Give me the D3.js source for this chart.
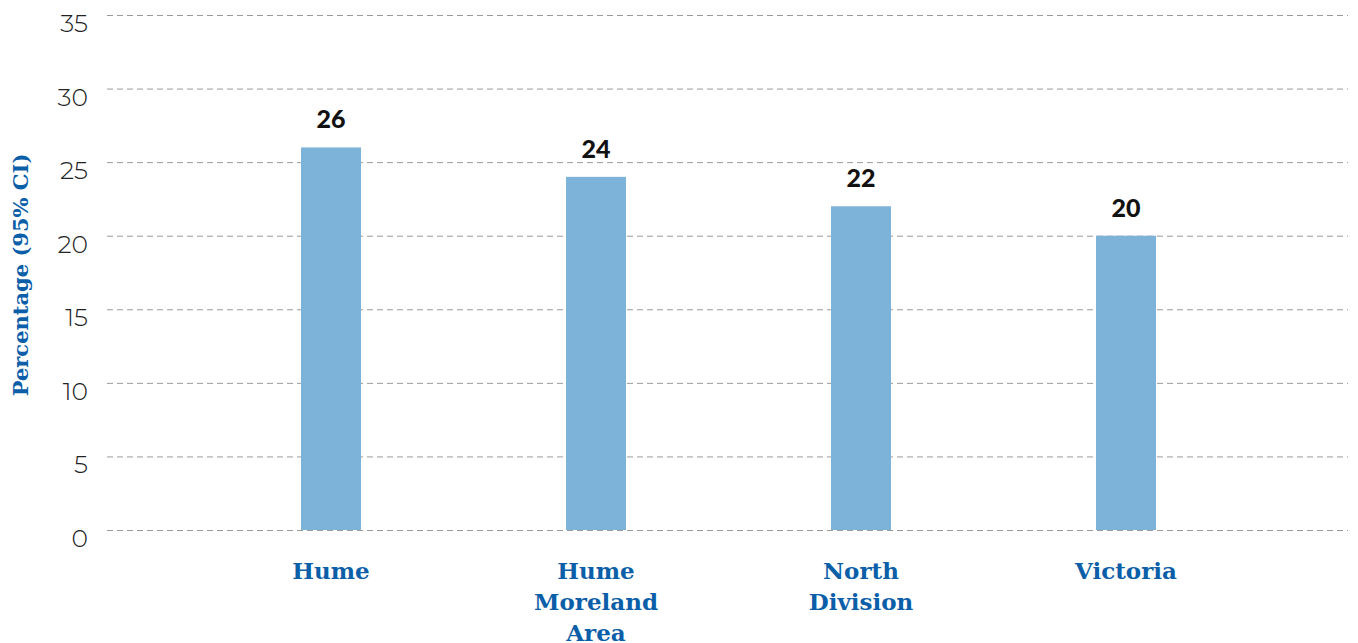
<!DOCTYPE html>
<html>
<head>
<meta charset="utf-8">
<script src="https://cdn.jsdelivr.net/npm/d3@7"></script>
<style>
  html, body { margin: 0; padding: 0; background: #fff; }
  svg { display: block; }
</style>
</head>
<body>
<svg id="chart" width="1358" height="643"></svg>
<script>
// Data
const categories = ["Hume", "Hume Moreland Area", "North Division", "Victoria"];
const categoryLines = [["Hume"], ["Hume", "Moreland", "Area"], ["North", "Division"], ["Victoria"]];
const values = [26, 24, 22, 20];
const yTicks = [0, 5, 10, 15, 20, 25, 30, 35];
const yTitle = "Percentage (95% CI)";

const svg = d3.select("#chart");

const gridLeft = 107, gridRight = 1348;
const plotTop = 15, plotBottom = 530;

const y = d3.scaleLinear().domain([0, 35]).range([plotBottom, plotTop]);

const pIn = 0.7736;
const x = d3.scaleBand()
  .domain(categories)
  .range([198.5, 1258.5])
  .paddingInner(pIn)
  .paddingOuter(pIn / 2);

// Gridlines
svg.append("g")
  .selectAll("line")
  .data(yTicks)
  .join("line")
  .attr("x1", gridLeft)
  .attr("x2", gridRight)
  .attr("y1", d => y(d) + 0.5)
  .attr("y2", d => y(d) + 0.5)
  .attr("stroke", "#9a9a9a")
  .attr("stroke-width", 1)
  .attr("stroke-dasharray", "6,4");

// Y tick labels (sit slightly below their gridline)
svg.append("g")
  .selectAll("text")
  .data(yTicks)
  .join("text")
  .attr("x", 88)
  .attr("y", d => y(d) + 8)
  .attr("dy", "0.36em")
  .attr("text-anchor", "end")
  .attr("font-family", "Montserrat, Lato, 'Open Sans', sans-serif")
  .attr("font-weight", 300)
  .attr("font-size", 25)
  .attr("fill", "#222")
  .text(d => d);

// Bars
svg.append("g")
  .selectAll("rect")
  .data(values)
  .join("rect")
  .attr("x", (d, i) => x(categories[i]))
  .attr("width", x.bandwidth())
  .attr("y", d => y(d))
  .attr("height", d => y(0) - y(d))
  .attr("fill", "#7db3d9");

// Value labels
svg.append("g")
  .selectAll("text")
  .data(values)
  .join("text")
  .attr("x", (d, i) => x(categories[i]) + x.bandwidth() / 2)
  .attr("y", d => y(d) - 19)
  .attr("text-anchor", "middle")
  .attr("font-family", "Lato, 'Open Sans', sans-serif")
  .attr("font-weight", 900)
  .attr("font-size", 25)
  .attr("fill", "#111")
  .text(d => d);

// Category labels
const catG = svg.append("g");
categoryLines.forEach((lines, i) => {
  const cx = x(categories[i]) + x.bandwidth() / 2;
  const t = catG.append("text")
    .attr("x", cx)
    .attr("y", 579)
    .attr("text-anchor", "middle")
    .attr("font-family", "'DejaVu Serif', serif")
    .attr("font-weight", 700)
    .attr("font-size", 23)
    .attr("fill", "#0b5ea8");
  lines.forEach((ln, j) => {
    t.append("tspan")
      .attr("x", cx)
      .attr("dy", j === 0 ? 0 : 31)
      .text(ln);
  });
});

// Y axis title
svg.append("text")
  .attr("transform", `translate(28, 275) rotate(-90)`)
  .attr("text-anchor", "middle")
  .attr("font-family", "'DejaVu Serif', serif")
  .attr("font-weight", 700)
  .attr("font-size", 21)
  .attr("fill", "#0b5ea8")
  .text(yTitle);
</script>
</body>
</html>
